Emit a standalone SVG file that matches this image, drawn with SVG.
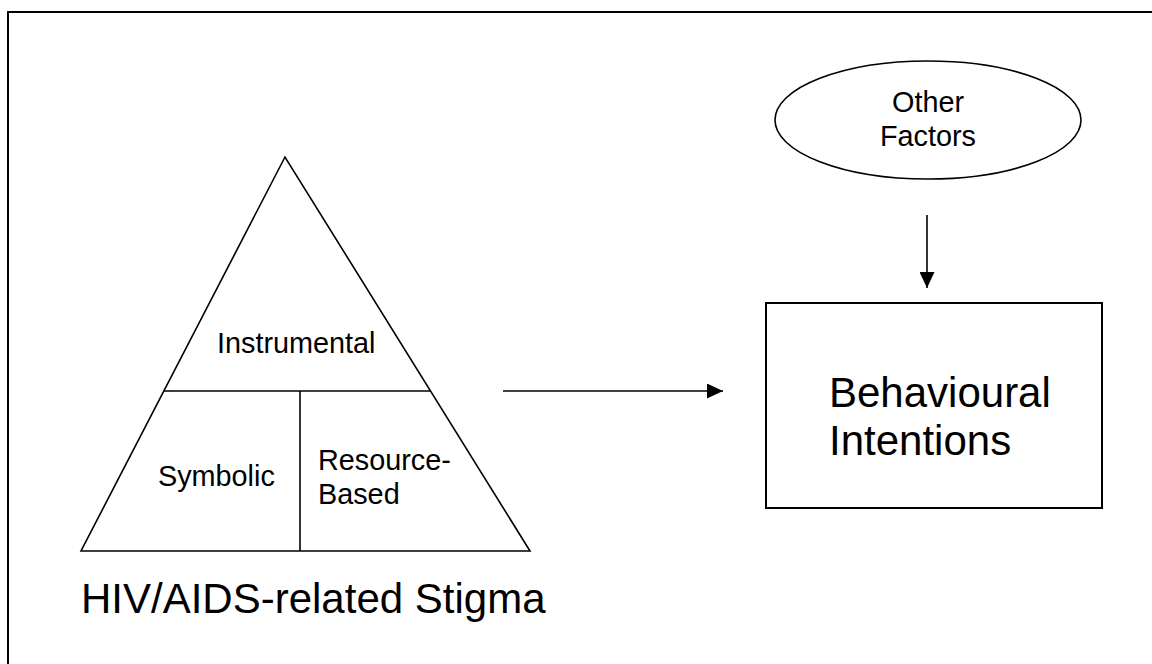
<svg xmlns="http://www.w3.org/2000/svg" width="1152" height="664" viewBox="0 0 1152 664">
<style>
  .t { font-family: "Liberation Sans", Arial, sans-serif; fill: #000; }
  .s { font-size: 28.8px; }
  .l { font-size: 42px; }
  .ln { stroke: #000; stroke-width: 1.6; fill: none; }
</style>
<defs>
  <marker id="ah" markerWidth="16" markerHeight="15" refX="16" refY="7.5" orient="auto" markerUnits="userSpaceOnUse">
    <path d="M0,0 L16,7.5 L0,15 Z" fill="#000"/>
  </marker>
</defs>
<rect x="0" y="0" width="1152" height="664" fill="#fff"/>
<rect id="frame" x="8" y="12" width="1170" height="680" fill="none" stroke="#000" stroke-width="2"/>

<g id="stigma">
  <polygon class="ln" points="285,157 81,551 530,551"/>
  <line class="ln" x1="164" y1="391" x2="431" y2="391"/>
  <line class="ln" x1="300" y1="391" x2="300" y2="551"/>
  <text class="t s" x="217" y="353">Instrumental</text>
  <text class="t s" x="158" y="486">Symbolic</text>
  <text class="t s" x="318" y="470">Resource-</text>
  <text class="t s" x="318" y="504">Based</text>
  <text class="t l" x="81" y="613">HIV/AIDS-related Stigma</text>
</g>

<g id="other-factors">
  <ellipse class="ln" cx="928" cy="120" rx="153" ry="59"/>
  <text class="t s" x="928" y="112" text-anchor="middle">Other</text>
  <text class="t s" x="928" y="146" text-anchor="middle">Factors</text>
</g>

<g id="behavioural-intentions">
  <rect x="766" y="303" width="336" height="205" fill="none" stroke="#000" stroke-width="2"/>
  <text class="t l" x="829" y="407">Behavioural</text>
  <text class="t l" x="829" y="455">Intentions</text>
</g>

<g id="connectors">
  <line class="ln" x1="503" y1="391" x2="723" y2="391" marker-end="url(#ah)"/>
  <line class="ln" x1="927" y1="215" x2="927" y2="288" marker-end="url(#ah)"/>
</g>
</svg>
